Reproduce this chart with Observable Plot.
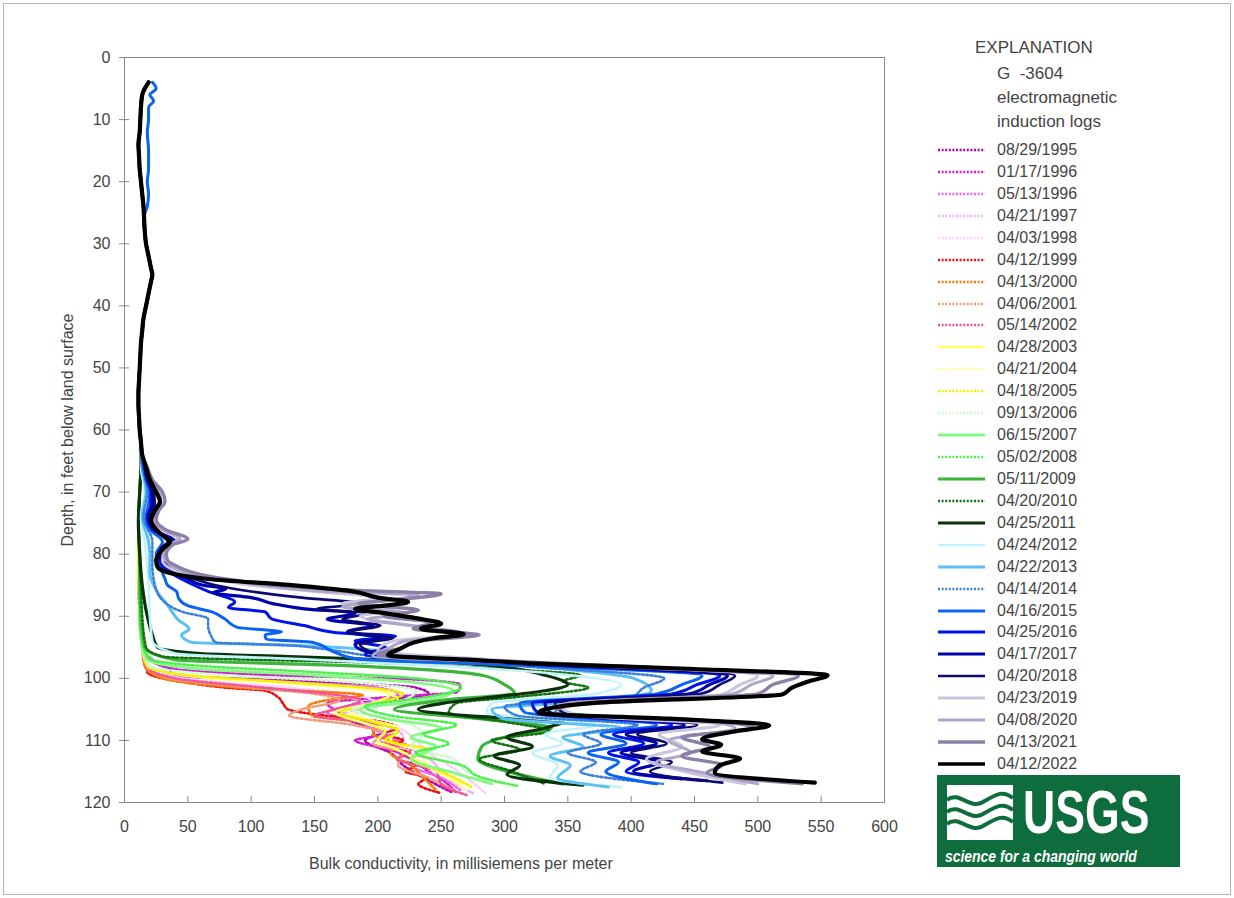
<!DOCTYPE html>
<html><head><meta charset="utf-8">
<script src="https://cdn.jsdelivr.net/npm/d3@7"></script>
<script src="https://cdn.jsdelivr.net/npm/@observablehq/plot@0.6"></script>
<style>
body{margin:0;background:#fff;}
#wrap{position:relative;width:1234px;height:898px;overflow:hidden;background:#fff;font-family:"Liberation Sans Narrow","Liberation Sans",sans-serif;color:#444;}
#border{position:absolute;left:3px;top:3px;width:1228px;height:892px;border:1px solid #b4b4b4;box-sizing:border-box;}
#chart{position:absolute;left:0;top:0;}
.xlabel{position:absolute;left:309px;top:855px;font-size:16px;white-space:nowrap;}
.ylabel{position:absolute;left:68px;top:430px;transform:translate(-50%,-50%) rotate(-90deg);white-space:nowrap;font-size:16px;}
.lt{position:absolute;font-size:17px;white-space:nowrap;line-height:20px;}
.entry{position:absolute;left:937px;height:20px;white-space:nowrap;font-size:16px;line-height:20px;}
.entry svg{position:absolute;left:0;top:5px;}
.entry span{position:absolute;left:60px;top:0;}
#logo{position:absolute;left:937px;top:775px;width:243px;height:92px;background:#0e6d3d;overflow:hidden;}
#logo .usgs{position:absolute;left:86px;top:12px;font-size:62px;font-weight:bold;color:#fff;line-height:50px;height:50px;transform:scaleX(0.72);transform-origin:0 0;white-space:nowrap;font-family:"Liberation Sans",sans-serif;}
#logo .sci{position:absolute;left:8px;top:73px;font-size:16px;font-weight:bold;font-style:italic;color:#fff;white-space:nowrap;line-height:18px;transform:scaleX(0.87);transform-origin:0 0;font-family:"Liberation Sans",sans-serif;}
</style>
</head><body>
<div id="wrap">
  <div id="border"></div>
  <div id="chart"></div>
  <div class="xlabel">Bulk conductivity, in millisiemens per meter</div>
  <div class="ylabel">Depth, in feet below land surface</div>
  <div class="lt" style="left:975px;top:38px;">EXPLANATION</div>
  <div class="lt" style="left:997px;top:64px;">G &nbsp;-3604</div>
  <div class="lt" style="left:997px;top:88px;">electromagnetic</div>
  <div class="lt" style="left:997px;top:112px;">induction logs</div>
  <div id="logo">
    <svg width="243" height="92" style="position:absolute;left:0;top:0">
      <rect x="10" y="10" width="66" height="55" fill="#fff"/>
      <path d="M10,25 C22,15 32,35 46,27 S66,15 76,23" stroke="#0e6d3d" stroke-width="4" fill="none"/>
      <path d="M10,37 C22,27 32,47 46,39 S66,27 76,35" stroke="#0e6d3d" stroke-width="4" fill="none"/>
      <path d="M10,49 C22,39 32,59 46,51 S66,39 76,47" stroke="#0e6d3d" stroke-width="4" fill="none"/>
    </svg>
    <div class="usgs">USGS</div>
    <div class="sci">science for a changing world</div>
  </div>
</div>
<script>
// ---------- data ----------
const dates = ["08/29/1995","01/17/1996","05/13/1996","04/21/1997","04/03/1998","04/12/1999","04/13/2000","04/06/2001","05/14/2002","04/28/2003","04/21/2004","04/18/2005","09/13/2006","06/15/2007","05/02/2008","05/11/2009","04/20/2010","04/25/2011","04/24/2012","04/22/2013","04/14/2014","04/16/2015","04/25/2016","04/17/2017","04/20/2018","04/23/2019","04/08/2020","04/13/2021","04/12/2022"];
const xTicks = [0,50,100,150,200,250,300,350,400,450,500,550,600];
const yTicks = [0,10,20,30,40,50,60,70,80,90,100,110,120];

// shared shallow section (all logs overlap), depth ft, conductivity mS/m
const upperProfile = [[4,19],[5,16],[6,14],[8,13],[10,12.5],[12,12],[14,11],[16,11.5],[18,12],[20,13],[22,14],[24,15],[26,15.5],[28,16],[30,17],[32,19],[34,21],[35,22],[36,21],[38,19],[40,17],[42,15],[44,14],[46,13],[48,12.5],[50,12],[52,11.5],[54,11],[56,11],[58,11.5],[60,12],[62,13]];
const upper2015 = [[4,22],[5,25],[6,20],[7,23],[8,19],[10,19],[12,18],[15,19],[18,19],[20,18],[22,19],[24,18],[26,15],[28,16]];

const log1995 = [[64,13],[70,12],[75,11],[80,11],[90,12],[95,14],[97,22],[98.5,35],[99.5,40],[100.5,150],[101.5,230],[102.5,240],[104,186],[105.5,170],[107,180],[108.5,206],[110,190],[112,210],[114,220],[116,236],[118.3,258]];
const log1996a = [[64,13],[70,12],[75,11],[80,11],[90,12],[95,14],[97,20],[98.5,40],[99.5,120],[100.2,230],[101,265],[102.2,263],[103,210],[104,160],[105.5,170],[107,185],[108.3,196],[109.2,197],[110,182],[111.5,210],[113,226],[115,240],[117,255],[118.5,262]];
const log1996b = [[64,13],[70,12],[75,11],[80,11],[90,12],[95,14],[98,16],[99.5,35],[100.5,120],[101.5,200],[102.5,216],[104,190],[105.5,160],[107,186],[108.5,200],[110,216],[112,230],[114,226],[116,250],[118,265]];
const log1997 = [[64,13],[70,12],[75,11],[80,11],[90,12],[95,14],[98,17],[100,40],[101.5,120],[103,176],[104.5,190],[106,170],[107.5,206],[109.5,220],[111.5,216],[113,240],[115,250],[117,262],[118.5,275]];
const log1998 = [[64,13],[70,12],[75,11],[80,11],[90,12],[95,14],[98,17],[100,45],[101.5,130],[103,190],[104.5,200],[106,180],[108,216],[110,230],[112,240],[114,256],[116,270],[118.5,285]];
const log1999 = [[64,13],[70,12],[75,11],[80,11],[90,12],[95,15],[97,17],[99,18],[100,30],[100.6,47],[101.5,80],[102,111],[103,121],[104,125],[105,129],[105.5,140],[106,158],[107,203],[108,215],[109,205],[110,220],[111,210],[112,225],[113,215],[114,230],[115,222],[116,238],[117,232],[118.5,250]];
const log2000 = [[64,13],[70,12],[75,11],[80,11],[90,12],[95,14],[98,16],[100,30],[101.5,90],[102.7,188],[103.5,160],[104.5,145],[106,148],[107.5,200],[109,196],[110.5,216],[112,210],[114,226],[116,236],[118,246]];
const log2001 = [[64,13],[70,12],[75,11],[80,11],[90,12],[95,14],[98,17],[100,35],[101.5,100],[102.5,150],[103.5,170],[105,140],[106,130],[107.5,180],[109,206],[110.5,196],[112,220],[114,216],[116,240],[118,260]];
const log2002 = [[64,13],[70,12],[75,11],[80,11],[90,12],[95,14],[98,17],[100,40],[101.5,110],[102.5,160],[103.5,186],[105,166],[106,150],[107,190],[108.5,216],[110,200],[111.5,226],[113,216],[115,246],[117,250],[118.8,270]];
const log2003 = [[64,13],[70,12],[75,11],[80,11],[90,12],[95,14],[98,18],[100,70],[101,150],[102.5,210],[104,196],[105.5,166],[107,186],[108.5,206],[110,200],[111.5,216],[113,230],[115,246],[117,265]];
const log2004 = [[64,13],[70,12],[75,11],[80,11],[90,12],[95,14],[98,18],[99.8,60],[101,140],[102,200],[103.5,216],[105,176],[106.5,190],[108,216],[110,210],[112,236],[114,240],[116,256],[118,270]];
const log2005 = [[64,13],[70,12],[75,11],[80,11],[90,12],[95,14],[98,18],[99.5,50],[100.5,120],[101.5,190],[102.5,220],[104,200],[105.5,170],[107,196],[108.5,216],[110,206],[111.5,240],[113,226],[115,250],[117.6,275]];
const log2006 = [[64,13],[70,12],[75,11],[80,12],[90,12],[95,14],[98,20],[99.5,80],[100.5,170],[102,230],[103.5,220],[105,180],[107,220],[109,236],[111,226],[113,260],[115,270],[117,300]];
const log2007 = [[64,13],[70,12],[75,11],[80,12],[90,12],[95,14],[97,18],[98.5,60],[99.5,150],[100.5,220],[102,260],[103.5,240],[105,186],[106.5,206],[108,250],[109.5,226],[111,246],[113,226],[115,256],[117,290]];
const log2008 = [[64,13],[70,12],[75,11],[80,12],[90,12],[95,15],[97,22],[98,60],[99,150],[100,230],[101.5,266],[103,240],[104.5,190],[106,210],[107.5,262],[109,236],[110.5,256],[112,230],[114,266],[116,282],[117.3,310]];
const log2009 = [[64,13],[66,13],[70,12],[75,11],[80,12],[85,12],[90,13],[95,16],[97,40],[98,180],[99.5,282],[101,300],[102.4,308],[103.5,252],[105,213],[106.5,280],[108,337],[109.5,300],[111,282],[113,279],[115,302],[117,346]];
const log2010 = [[64,13],[66,13],[70,12],[75,11],[80,12],[85,13],[90,14],[95,17],[96.5,30],[97.5,200],[98.5,300],[99.5,360],[100.5,346],[101.5,366],[103,310],[104,262],[105.5,256],[107,300],[108.5,336],[110,290],[111.5,312],[113,280],[115,306],[117,332]];
const log2011 = [[64,13],[66,13],[70,12],[75,11],[80,12],[85,14],[90,18],[93,22],[95,26],[96,60],[96.5,130],[97,200],[97.5,262],[98.2,300],[99.5,332],[101,350],[102,332],[103,292],[104,252],[105,232],[106,270],[107,346],[108,332],[109.5,302],[111,322],[112.5,292],[114,312],[115.5,302],[117.2,362]];
const log2012 = [[64,13],[66,13],[70,16],[74,13],[78,16],[80,17],[85,19],[90,20],[94,22],[96,40],[97,150],[98,250],[99.5,352],[101,392],[102.5,372],[104,290],[105.5,286],[107.5,372],[109,332],[110.5,346],[112,322],[114,342],[116,336],[117.5,392]];
const log2013 = [[64,13],[66,14],[70,17],[74,14],[78,19],[80,20],[82.9,20],[86.1,26],[88.2,34],[90.5,42],[92.1,51],[93,45],[94.2,53],[94.6,120],[95.2,182],[96.5,230],[98,320],[100,402],[102,416],[103.5,380],[105,290],[106.5,300],[108,392],[109.5,346],[111,362],[112.5,336],[114,352],[116,342],[117.5,382]];
const log2014 = [[64,13],[66,14],[70,18],[74,15],[78,22],[80,22],[82,22],[84,23],[85,24],[87.4,30],[89.3,46],[90.4,66],[91.5,66],[93,68],[94.2,72],[94.7,130],[95.3,158],[96.5,200],[98,310],[100,426],[101.5,410],[103,400],[104.5,300],[106,310],[107.5,405],[109,362],[110.5,376],[112,350],[113.5,372],[115,360],[117,425]];
const log2015 = [[64,14],[66,15],[68,17],[70,20],[72,19],[74,17],[76,20],[78,30],[80,25],[82,28],[84,32],[85,34],[86,41],[87.2,43],[88.3,50],[89.3,69],[90.4,79],[91.8,89],[92.5,124],[93,111],[93.7,112],[94.2,148],[95.8,166],[96.9,184],[97.8,300],[99.6,456],[101,440],[102.5,420],[104,312],[105.5,316],[107.5,420],[109,376],[110.5,396],[112,366],[113.5,390],[115,380],[117,420]];
const log2016 = [[64,14],[66,16],[68,18],[70,21],[72,21],[74,18],[76,22],[78,38],[79,29],[80,27],[82,30],[84,45],[86,66],[87.7,87],[88.6,82],[89.3,111],[90.4,116],[91.5,142],[92.6,166],[93.2,214],[94,182],[95,206],[96.2,190],[97.5,300],[99.6,470],[101,452],[102.5,432],[104,322],[105.5,326],[107.5,432],[109,386],[110.5,410],[112,382],[113.5,406],[115,396],[116.2,440]];
const log2017 = [[64,14],[66,16],[68,18],[70,22],[72,22],[74,19],[76,23],[78,40],[79,30],[80,28],[82,33],[84,50],[85,62],[85.6,80],[86.2,70],[87,100],[88,118],[88.8,142],[89.5,182],[90.5,160],[91.5,196],[92.5,176],[93.5,202],[94.5,182],[96,196],[97.5,312],[99.6,476],[101,462],[102.5,446],[104,332],[105.5,336],[107.5,442],[109,396],[110.5,420],[112,392],[113.5,422],[115,402],[116.5,460]];
const log2018 = [[64,14],[66,16],[68,19],[70,23],[72,24],[74,20],[76,24],[78,34],[79,29],[80,28],[82,35],[84,55],[85,72],[86,100],[87,140],[88,188],[88.8,152],[89.5,192],[90.5,172],[91.5,202],[92.5,178],[93.5,212],[94.5,186],[96,200],[97.5,320],[99.6,482],[101,470],[102.5,455],[104,340],[105.5,346],[107.5,452],[109,405],[110.5,428],[112,400],[113.5,432],[115,415],[116.8,472]];
const log2019 = [[64,14],[66,17],[68,20],[70,27],[72,28],[74,23],[76,29],[77.5,42],[79,33],[81,30],[83,45],[84,70],[85,100],[86,150],[87,200],[88,172],[89,212],[90,186],[91.5,226],[93,255],[94,212],[95.5,200],[97,290],[99.6,500],[101,486],[103,466],[104.5,345],[106,360],[107.5,470],[109,422],[111,440],[113,412],[115,442],[117,490]];
const log2020 = [[64,14],[66,17],[68,21],[70,28],[72,29],[74,24],[76,30],[77.5,44],[78.5,35],[80,31],[82,38],[83,50],[84,75],[85,110],[86,160],[86.6,232],[87.5,202],[88.5,172],[89.5,222],[90.5,192],[91.8,240],[93,272],[94,222],[95,210],[96.4,196],[97.5,310],[99.6,512],[101,495],[102.5,480],[104,350],[105.5,332],[107,460],[108,482],[110,430],[112,447],[113.5,420],[115,452],[117,500]];
const log2021 = [[64,14],[66,18],[68,22],[70,30],[71.5,32],[73,27],[74.5,25],[76,32],[77.6,50],[78.5,38],[80,33],[81,34],[82,42],[83,55],[84,80],[85,120],[85.8,180],[86.4,250],[87.2,222],[88,185],[89,232],[90,205],[91,242],[92,228],[93,280],[94,232],[95,220],[96.2,200],[97.2,300],[98.3,420],[99.6,532],[101,512],[102.5,500],[104,362],[105.5,340],[107,470],[108,497],[109.5,440],[111,462],[112.5,440],[114,472],[115.2,460],[117,535]];
const log2022 = [[64,14],[66,17],[68,20],[70,25],[71.5,28],[73,24],[74.5,21],[76,25],[77,30],[78,36],[79,31],[80,27],[81,25],[82,26],[83,35],[84,66],[85,132],[86,180],[87,200],[87.7,224],[88.3,205],[88.8,182],[89.5,205],[90.3,230],[91.2,250],[92,234],[92.9,268],[93.5,245],[94.2,229],[95.2,218],[96.3,208],[97,270],[97.7,335],[98.5,450],[99.5,555],[100.5,540],[101.5,527],[102.6,519],[103.9,374],[105,332],[105.6,327],[106.5,430],[107.6,509],[108.6,480],[109.8,456],[110.7,471],[111.8,456],[112.9,486],[114,470],[115.2,466],[116.8,545]];

const deepLogs = [log1995,log1996a,log1996b,log1997,log1998,log1999,log2000,log2001,log2002,log2003,log2004,log2005,log2006,log2007,log2008,log2009,log2010,log2011,log2012,log2013,log2014,log2015,log2016,log2017,log2018,log2019,log2020,log2021,log2022];

// ---------- styles ----------
const colors = ["#b000b0","#d21ed2","#f064ee","#f6b0ee","#f8d2f6","#e81010","#ff7800","#f49a7c","#f0559a","#ffff6a","#ffff96","#f0f000","#d4f7d4","#84fa84","#4ef04e","#3cb43c","#127512","#0a320a","#c2f3fc","#5cc0f4","#3d80d8","#0a64f0","#0014e6","#0000aa","#0a0a72","#cbc4de","#b0a7c8","#8d80a8","#000000"];
const dotted = [1,1,1,1,1,1,1,1,1,0,1,1,1,0,1,0,1,0,0,0,1,0,0,0,0,0,0,0,0];
const widths = [2.6,2.6,2.6,2.6,2.6,2.6,2.6,2.6,2.6,2.6,2.6,2.6,2.6,2.8,2.6,3.2,2.6,3.2,2.6,3,2.6,3,3,3.2,2.6,3,3,3.4,4.2];

// ---------- build ----------
const series = deepLogs.map((deep, i) => {
  const up = dates[i] === "04/16/2015"
    ? upper2015.concat(upperProfile.filter(p => p[0] > 28))
    : upperProfile;
  return up.concat(deep).map(([d, v]) => ({d, v, date: dates[i]}));
});

const lines = series.map((pts, i) => Plot.line(pts, {
  x: "v", y: "d",
  stroke: colors[i],
  strokeWidth: widths[i],
  strokeDasharray: dotted[i] ? "2,2.4" : undefined,
  strokeLinejoin: "round",
  curve: "monotone-y"
}));

const axisColor = "#8a8a8a";
const chart = Plot.plot({
  width: 930, height: 898,
  marginLeft: 124, marginRight: 46, marginTop: 57, marginBottom: 96,
  style: {fontFamily: '"Liberation Sans Narrow","Liberation Sans",sans-serif', fontSize: "16px", color: "#444", background: "transparent"},
  x: {domain: [0, 600], ticks: xTicks, tickSize: 0, tickPadding: 18, label: null},
  y: {domain: [0, 120], reverse: true, ticks: yTicks, tickSize: 0, tickPadding: 14, label: null},
  marks: [
    Plot.frame({stroke: axisColor}),
    ...lines,
    Plot.ruleY(yTicks, {y: d => d, x1: 0, x2: 8, dx: -5, stroke: axisColor}),
    Plot.ruleX(xTicks, {x: d => d, y1: 119, y2: 120, stroke: axisColor})
  ]
});
document.getElementById("chart").appendChild(chart);

// legend
const wrap = document.getElementById("wrap");
dates.forEach((date, i) => {
  const cy = 150 + i * 21.93;
  const el = document.createElement("div");
  el.className = "entry";
  el.style.top = (cy - 10) + "px";
  el.innerHTML = `<svg width="50" height="10"><line x1="1" x2="48" y1="5" y2="5" stroke="${colors[i]}" stroke-width="${Math.min(widths[i],3.4)}" ${dotted[i] ? 'stroke-dasharray="2,1.6"' : ''}/></svg><span>${date}</span>`;
  wrap.appendChild(el);
});
</script>
</body></html>
